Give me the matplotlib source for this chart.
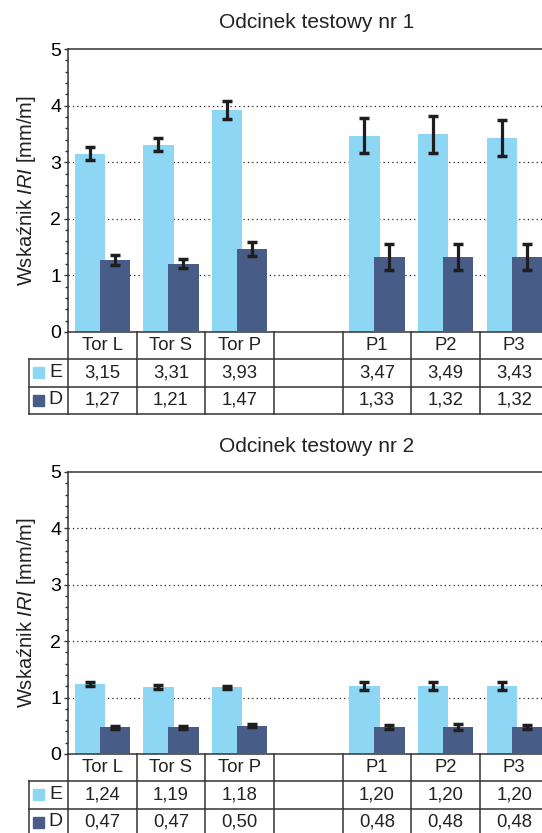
import numpy as np
import matplotlib
matplotlib.use("Agg")
import matplotlib.pyplot as plt
from matplotlib.patches import Rectangle
from matplotlib.ticker import MultipleLocator

plt.rcParams['font.family'] = ['Liberation Sans', 'DejaVu Sans']
plt.rcParams['mathtext.fontset'] = 'custom'
plt.rcParams['mathtext.it'] = 'Liberation Sans:italic'
plt.rcParams['mathtext.rm'] = 'Liberation Sans'

# data
categories = ["Tor L", "Tor S", "Tor P", "", "P1", "P2", "P3"]
series_names = ["E", "D"]

e1 = [3.15, 3.31, 3.93, None, 3.47, 3.49, 3.43]
e1_err = [0.11, 0.11, 0.16, None, 0.31, 0.32, 0.32]
d1 = [1.27, 1.21, 1.47, None, 1.33, 1.32, 1.32]
d1_err = [0.09, 0.08, 0.12, None, 0.23, 0.23, 0.23]

e2 = [1.24, 1.19, 1.18, None, 1.20, 1.20, 1.20]
e2_err = [0.03, 0.03, 0.03, None, 0.07, 0.07, 0.07]
d2 = [0.47, 0.47, 0.50, None, 0.48, 0.48, 0.48]
d2_err = [0.03, 0.03, 0.03, None, 0.04, 0.06, 0.04]

titles = ["Odcinek testowy nr 1", "Odcinek testowy nr 2"]

COL_E = "#8DD7F4"
COL_D = "#485C88"
LINE = "#333333"

W, H = 542, 833
fig = plt.figure(figsize=(W / 100, H / 100), dpi=100)


def fmt(v):
    return "" if v is None else f"{v:.2f}".replace(".", ",")


def draw_panel(ax, title, e, e_err, d, d_err, title_y):
    n = len(categories)
    x = np.arange(n)
    idx = [i for i in range(n) if e[i] is not None]
    xs = x[idx]
    bw = 0.44
    off = 0.182
    ax.bar(xs - off, [e[i] for i in idx], width=bw, color=COL_E, zorder=2)
    ax.bar(xs + off, [d[i] for i in idx], width=bw, color=COL_D, zorder=3)
    ekw = dict(fmt="none", ecolor="#1e1e1e", elinewidth=2.3, capsize=3.3, capthick=2.5, zorder=5)
    ax.errorbar(xs - off, [e[i] for i in idx], yerr=[e_err[i] for i in idx], **ekw)
    ax.errorbar(xs + off, [d[i] for i in idx], yerr=[d_err[i] for i in idx], **ekw)

    ax.set_xlim(-0.5, n - 0.5)
    ax.set_ylim(0, 5)
    ax.yaxis.set_major_locator(MultipleLocator(1))
    ax.yaxis.set_minor_locator(MultipleLocator(0.2))
    ax.tick_params(axis="y", which="major", length=3, width=1, color=LINE, labelsize=14, pad=2)
    ax.tick_params(axis="y", which="minor", length=2.5, width=1, color=LINE)
    ax.set_xticks([])
    for y in [1, 2, 3, 4]:
        ax.axhline(y, color="#222222", lw=0.9, ls=(0, (1, 2.5)), zorder=1)
    for s in ["left", "top", "bottom"]:
        ax.spines[s].set_color(LINE)
        ax.spines[s].set_linewidth(1.1)
    ax.spines["right"].set_visible(False)

    # table under the plot
    ax_h = ax.get_position().height * H
    rows_px = [0, 26.5, 54.5, 81.5]
    ry = [-p / ax_h for p in rows_px]
    tr = ax.get_xaxis_transform()
    left_x = -0.5 - 39 / 68.66
    lkw = dict(color=LINE, lw=1.1, transform=tr, clip_on=False)
    for k in range(n + 1):
        ax.plot([k - 0.5, k - 0.5], [0, ry[3]], **lkw)
    ax.plot([left_x, left_x], [ry[1], ry[3]], **lkw)
    for r in (1, 2, 3):
        ax.plot([left_x, n - 0.5], [ry[r], ry[r]], **lkw)
    tkw = dict(transform=tr, ha="center", va="center", fontsize=13.3, color="#222222", clip_on=False)
    for i, c in enumerate(categories):
        ax.text(i, (ry[0] + ry[1]) / 2, c, **tkw)
        ax.text(i, (ry[1] + ry[2]) / 2, fmt(e[i]), **tkw)
        ax.text(i, (ry[2] + ry[3]) / 2, fmt(d[i]), **tkw)
    sq_w = 11 / 68.66
    sq_h = 11 / ax_h
    for r, (name, col) in enumerate(zip(series_names, [COL_E, COL_D])):
        yc = (ry[r + 1] + ry[r + 2]) / 2
        ax.add_patch(Rectangle((left_x + 4 / 68.66, yc - sq_h / 2), sq_w, sq_h, color=col,
                               transform=tr, clip_on=False))
        ax.text(-0.5 - 6 / 68.66, yc, name, transform=tr, ha="right", va="center",
                fontsize=14, color="#222222", clip_on=False)

    fig.text(317 / W, 1 - title_y / H, title, ha="center", va="center", fontsize=15, color="#222222")
    yc = ax.get_position().y0 + ax.get_position().height / 2
    fig.text(27 / W, yc, r"Wskaźnik $\it{IRI}$ [mm/m]", rotation=90, ha="center", va="center",
             fontsize=14.5, color="#222222")


ax1 = fig.add_axes([68 / W, 1 - 332 / H, 480.6 / W, 283 / H])
ax2 = fig.add_axes([68 / W, 1 - 754 / H, 480.6 / W, 282 / H])
draw_panel(ax1, titles[0], e1, e1_err, d1, d1_err, 22)
draw_panel(ax2, titles[1], e2, e2_err, d2, d2_err, 446)

fig.savefig("out.png", dpi=100)
